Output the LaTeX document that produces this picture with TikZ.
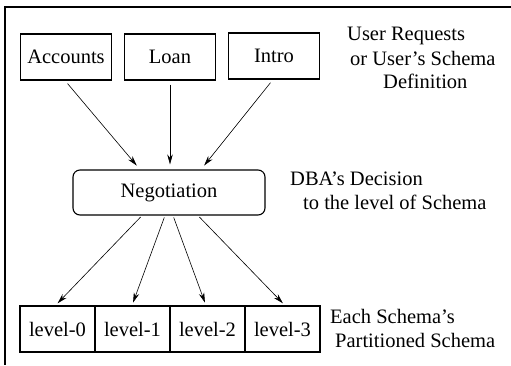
\documentclass[tikz,border=0pt]{standalone}
\usepackage{fontspec}
\setmainfont{Liberation Serif}
\usetikzlibrary{arrows.meta}

\tikzset{
  userbox/.style={draw,line width=1.1pt,minimum width=91pt,minimum height=46pt,inner sep=0pt},
  levelbox/.style={draw,line width=1.1pt,minimum width=75pt,minimum height=46pt,inner sep=0pt},
  remark/.style={anchor=base west,inner sep=0pt},
  flow/.style={-{Stealth[length=10pt,width=5.5pt]},line width=0.6pt},
}

\begin{document}
\begin{tikzpicture}[x=1pt,y=-1pt,font=\fontsize{20.5}{24}\selectfont]
  \useasboundingbox (0,0) rectangle (511,365);
  \draw[line width=1.1pt] (511,7) -- (5,7) -- (5,365);
  % user schemas
  \node[userbox] (acc)   at (66,57)  {Accounts};
  \node[userbox] (loan)  at (170,57) {Loan};
  \node[userbox] (intro) at (274,56) {Intro};
  \node[remark] (req1) at (347,40) {User Requests};
  \node[remark] (req2) at (350,65) {or User's Schema};
  \node[remark] (req3) at (383,88) {Definition};
  % DBA negotiation
  \node[draw,rounded corners=7pt,line width=1.1pt,minimum width=192pt,
        minimum height=45pt,inner sep=0pt] (neg) at (169,192.5) {Negotiation};
  \node[remark] (dba1) at (290,185) {DBA's Decision};
  \node[remark] (dba2) at (303,209) {to the level of Schema};
  % partitioned levels
  \node[levelbox] (lv0) at (57.5,329)  {level-0};
  \node[levelbox] (lv1) at (132.5,329) {level-1};
  \node[levelbox] (lv2) at (207.5,329) {level-2};
  \node[levelbox] (lv3) at (282.5,329) {level-3};
  \node[remark] (part1) at (330,323) {Each Schema's};
  \node[remark] (part2) at (335,347) {Partitioned Schema};
  % arrows
  \draw[flow,shorten <=4pt,shorten >=5pt] ([xshift=-1pt]acc.south) -- ([xshift=-29pt]neg.north);
  \draw[flow,shorten <=4pt,shorten >=5pt] (loan.south) -- ([xshift=1pt]neg.north);
  \draw[flow,shorten <=4pt,shorten >=5pt] ([xshift=-1pt]intro.south) -- ([xshift=32pt]neg.north);
  \draw[flow,shorten <=2pt,shorten >=3pt] ([xshift=-27pt]neg.south) -- ([xshift=-2pt]lv0.north);
  \draw[flow,shorten <=2pt,shorten >=3pt] ([xshift=-4pt]neg.south)  -- ([xshift=-0.5pt]lv1.north);
  \draw[flow,shorten <=2pt,shorten >=3pt] ([xshift=4pt]neg.south)   -- ([xshift=-1.5pt]lv2.north);
  \draw[flow,shorten <=2pt,shorten >=3pt] ([xshift=29pt]neg.south)  -- ([xshift=2.5pt]lv3.north);
\end{tikzpicture}
\end{document}
